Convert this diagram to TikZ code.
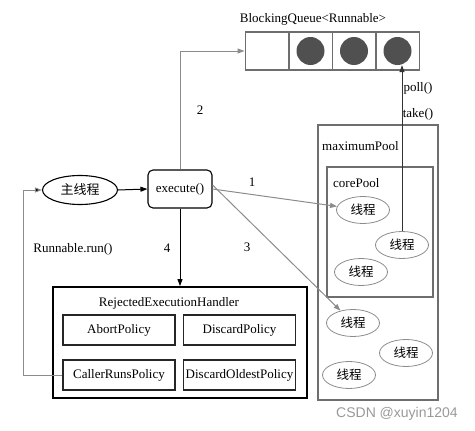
\documentclass[tikz,border=0pt]{standalone}
\usepackage{fontspec}
\setmainfont{Liberation Serif}
\newfontfamily\cjk{Noto Sans CJK SC}
\newfontfamily\wmfont{Liberation Sans}
\usetikzlibrary{arrows.meta,shapes.geometric}
\definecolor{lgray}{HTML}{8C8C8C}
\definecolor{mgray}{HTML}{6E6E6E}
\definecolor{dgray}{HTML}{505050}
\tikzset{
  txt/.style={font=\fontsize{13}{15}\selectfont, inner sep=0pt},
  cell/.style={draw=mgray, line width=1.5pt, minimum width=43.5pt, minimum height=38pt, inner sep=0pt},
  ball/.style={circle, fill=dgray, minimum size=28pt, inner sep=0pt},
  policy/.style={draw=black!85, line width=1.3pt, minimum width=112pt, minimum height=30pt, inner sep=0pt, font=\fontsize{13}{15}\selectfont},
  thread/.style={ellipse, draw=black!45, line width=0.8pt, minimum width=53pt, minimum height=27pt, inner sep=0pt, font=\cjk\fontsize{12.5}{14}\selectfont},
  pool/.style={draw=mgray, line width=1.6pt, inner sep=0pt},
  garrow/.style={draw=lgray, line width=1pt, -{Triangle[length=7pt,width=5pt]}},
  barrow/.style={draw=black, line width=1pt, -{Triangle[length=7pt,width=5pt]}},
}
\begin{document}
\begin{tikzpicture}[x=1pt,y=-1pt]
\useasboundingbox (0,0) rectangle (475,431);
% queue
\node[txt] (qt) at (313,19) {BlockingQueue<Runnable>};
\node[cell] (c1) at (267,51) {};
\node[cell] (c2) at (310.5,51) {};
\node[cell] (c3) at (354,51) {};
\node[cell] (c4) at (397.5,51) {};
\node[ball] (d2) at (c2) {};
\node[ball] (d3) at (c3) {};
\node[ball] (d4) at (c4) {};
% pools
\node[pool, minimum width=120pt, minimum height=275pt] (maxp) at (378,262.5) {};
\node[pool, minimum width=106pt, minimum height=130pt] (corep) at (380,232) {};
\node[txt, anchor=west] (maxl) at (322,146) {maximumPool};
\node[txt, anchor=west] (corel) at (333,183) {corePool};
\node[thread] (t1) at (363,210) {线程};
\node[thread] (t2) at (402,245) {线程};
\node[thread] (t3) at (361,272) {线程};
\node[thread] (u1) at (353,323) {线程};
\node[thread] (u2) at (406,353) {线程};
\node[thread] (u3) at (349,375) {线程};
% main flow
\node[ellipse, draw=black, line width=1.1pt, minimum width=75pt, minimum height=29pt, inner sep=0pt, font=\cjk\fontsize{13}{15}\selectfont] (main) at (80,190) {主线程};
\node[draw=black, line width=1.1pt, rounded corners=5pt, minimum width=64pt, minimum height=38pt, inner sep=0pt, font=\fontsize{13}{15}\selectfont] (exec) at (180,189) {execute()};
% handler
\node[draw=black, line width=1.8pt, minimum width=254pt, minimum height=111pt, inner sep=0pt] (hand) at (180,342.5) {};
\node[txt] (handl) at (169,303) {RejectedExecutionHandler};
\node[policy] (abort) at (119,330) {AbortPolicy};
\node[policy] (disc) at (239.5,330) {DiscardPolicy};
\node[policy] (caller) at (119,375) {CallerRunsPolicy};
\node[policy] (oldest) at (239.5,375) {DiscardOldestPolicy};
% connectors
\draw[barrow] (main.east) -- (exec.west);
\draw[garrow] (exec.north) -- (exec.north |- c1.west) -- (c1.west);
\draw[barrow, draw=black!80, line width=0.8pt] (t2.north) -- (t2.north |- d4.south);
\draw[garrow] (exec.east) -- (t1);
\draw[garrow] ([yshift=4pt]exec.east) -- (u1);
\draw[barrow] (exec.south) -- (hand.north);
\coordinate (rr) at (23,375);
\draw[garrow, draw=lgray, arrows={-{Triangle[length=7pt,width=5pt,fill=black]}}] (caller.west) -- (rr) |- (main.west);
% labels
\node[txt] (l2) at (200,110) {2};
\node[txt] (l1) at (252,182) {1};
\node[txt] (l3) at (247,247) {3};
\node[txt] (l4) at (167,248) {4};
\node[txt] (lrun) at (73,249) {Runnable.run()};
\node[txt] (lpoll) at (418,88) {poll()};
\node[txt] (ltake) at (418,114) {take()};
\node[font=\wmfont\fontsize{14}{16}\selectfont, text=black!40, inner sep=0pt] (wm) at (397,414) {CSDN @xuyin1204};
\end{tikzpicture}
\end{document}
